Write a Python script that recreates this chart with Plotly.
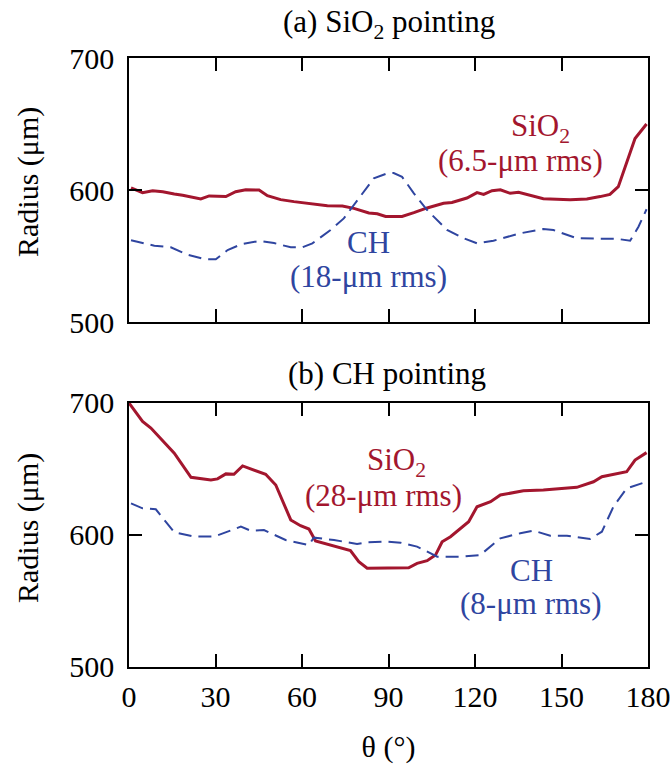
import plotly.graph_objects as go

# ---- data ----
theta_a_sio2 = [0.7, 4.7, 8.2, 11.7, 15.7, 18.6, 24.9, 27.8, 33.6, 37, 40.5, 45.1, 48, 52.6, 57.2, 63, 68.8, 74, 78, 83.2, 86.1, 89,
                94.7, 98.8, 103.4, 109.1, 112, 117.2, 120.7, 123, 125.9, 128.8, 132.2, 135.1, 139.1, 143.7, 153, 158.8, 163.4, 166.8,
                169.7, 172.6, 175.5, 179.5]
r_a_sio2 = [601.7, 598, 599.5, 598.7, 597, 596, 593.2, 595.5, 595, 598.7, 600.2, 600, 595.7, 592.7, 591.2, 589.4, 588.1, 587.9, 586.1,
            582.6, 582, 580, 580, 582.8, 586.4, 589.9, 590.6, 593.9, 598, 596.7, 599.5, 600.2, 597.5, 598.2, 596, 593.4, 592.7, 593.2,
            595, 596.7, 602.5, 621.5, 639, 650]

theta_a_ch = [0.7, 8.8, 14.5, 20.3, 26, 30.1, 34.2, 38.8, 45.1, 50.3, 56.1, 60.1, 63.6, 69.9, 74.5, 80.3, 84.9, 89.5, 91.8, 94.7,
              98.8, 103.4, 110.3, 116.1, 120.7, 126.4, 135.7, 143.7, 147.2, 155.3, 162.2, 169.2, 173.8, 176.7, 179.5]
r_a_ch = [562, 557.8, 556.6, 551, 547.7, 547.5, 554.5, 558.8, 561.4, 559.8, 556.6, 556.6, 559.6, 569.7, 578.5, 595, 608.8, 612.6,
          612.9, 610, 597.5, 584.8, 569.7, 563.4, 559.6, 561.6, 567.2, 570.4, 569.7, 563.4, 563.4, 563, 561.6, 572.2, 585.4]

theta_b_sio2 = [0, 4.7, 7.6, 15.7, 21.5, 28.4, 30.7, 33.6, 36.4, 39.4, 47.4, 50.9, 56.1, 59.5, 62.4, 64.7, 76.8, 79.7, 82.6, 89.5,
                97, 99.9, 103.4, 106.3, 108.6, 111.5, 117.8, 120.7, 125.4, 128.8, 136.8, 143.7, 155.3, 161.1, 164, 172.6, 175.5, 179.5]
r_b_sio2 = [700, 686, 681, 662, 643.7, 641.7, 642.5, 646.3, 646, 652.3, 646, 637.9, 611.4, 607, 604.5, 595.5, 588.2, 579.8, 574.8,
            574.8, 575.2, 578.5, 580.5, 584.8, 594.9, 598.7, 610.1, 621.4, 625.2, 630.3, 633.5, 634, 636.1, 640.3, 644.1, 647.9,
            656.8, 662.4]

theta_b_ch = [0.7, 4.7, 9.3, 11.7, 15.7, 22.6, 29.5, 38.8, 42.2, 46.8, 54.3, 62.4, 64.1, 71.1, 79.1, 82.6, 89.5, 94.2, 99.9, 106.9,
              115, 121.8, 125.3, 128.8, 135.7, 140.3, 146.1, 151.9, 159.9, 164, 168, 172.6, 179.5]
r_b_ch = [624, 620.2, 619.5, 612.7, 602, 598.8, 598.8, 606.3, 603.3, 603.8, 596.2, 592.4, 598, 596.2, 593.2, 594.5, 595, 594.2,
          591.2, 583.6, 583.6, 584.8, 591.2, 597.5, 601.3, 603.3, 599.5, 599.5, 597, 602.5, 621.4, 635.3, 640.3]

x_ticks = [0, 30, 60, 90, 120, 150, 180]
y_ticks = [500, 600, 700]

RED = "#A3162E"
BLUE = "#2F45A0"
FONT = "Liberation Serif, serif"
TS = 30   # tick / axis title size
AS = 31   # annotation size

fig = go.Figure()
fig.add_trace(go.Scatter(x=theta_a_sio2, y=r_a_sio2, mode="lines", line=dict(color=RED, width=3), xaxis="x", yaxis="y"))
fig.add_trace(go.Scatter(x=theta_a_ch, y=r_a_ch, mode="lines", line=dict(color=BLUE, width=2, dash="13px,7px"), xaxis="x", yaxis="y"))
fig.add_trace(go.Scatter(x=theta_b_sio2, y=r_b_sio2, mode="lines", line=dict(color=RED, width=3), xaxis="x2", yaxis="y2"))
fig.add_trace(go.Scatter(x=theta_b_ch, y=r_b_ch, mode="lines", line=dict(color=BLUE, width=2, dash="13px,7px"), xaxis="x2", yaxis="y2"))

common_x = dict(range=[0, 180], tickvals=x_ticks, ticks="inside", ticklen=13, tickwidth=1.5, tickcolor="black",
                showline=True, linecolor="black", linewidth=1.5, mirror="ticks", showgrid=False, zeroline=False,
                automargin=False, ticklabeloverflow="allow")
common_y = dict(range=[500, 700], tickvals=y_ticks, ticks="inside", ticklen=13, tickwidth=1.5, tickcolor="black",
                showline=True, linecolor="black", linewidth=1.5, mirror="ticks", showgrid=False, zeroline=False,
                automargin=False, ticklabeloverflow="allow",
                tickfont=dict(size=TS, family=FONT, color="black"), ticklabelstandoff=7)

fig.update_layout(
    width=670, height=766,
    margin=dict(l=129, r=22, t=58, b=99),
    paper_bgcolor="white", plot_bgcolor="white",
    showlegend=False,
    font=dict(family=FONT, color="black"),
    xaxis=dict(common_x, domain=[0, 1], anchor="y", showticklabels=False),
    yaxis=dict(common_y, domain=[0.5665, 1], anchor="x"),
    xaxis2=dict(common_x, domain=[0, 1], anchor="y2", showticklabels=True,
                tickfont=dict(size=TS, family=FONT, color="black"), ticklabelstandoff=2,
                title=dict(text="θ (°)", font=dict(size=TS, family=FONT, color="black"), standoff=24)),
    yaxis2=dict(common_y, domain=[0, 0.4335], anchor="x2"),
)

ann = []
def txt(text, x, y, color, size=AS, angle=0):
    ann.append(dict(text=text, x=x, y=y, xref="paper", yref="paper", showarrow=False, textangle=angle,
                    font=dict(size=size, family=FONT, color=color), xanchor="center", yanchor="middle"))

W, H, L, T = 519, 609, 129, 58
def px(xp, yp):
    return (xp - L) / W, 1 - (yp - T) / H

txt("Radius (μm)", *px(28, 182), "black", size=TS, angle=-90)
txt("Radius (μm)", *px(28, 528), "black", size=TS, angle=-90)
txt("(a) SiO<sub>2</sub> pointing", *px(389, 24), "black")
txt("(b) CH pointing", *px(387, 373), "black")
txt("SiO<sub>2</sub>", *px(540, 128), RED)
txt("(6.5-μm rms)", *px(520, 160), RED)
txt("CH", *px(368, 243), BLUE)
txt("(18-μm rms)", *px(368, 276), BLUE)
txt("SiO<sub>2</sub>", *px(396, 462), RED)
txt("(28-μm rms)", *px(383, 495), RED)
txt("CH", *px(531, 570), BLUE)
txt("(8-μm rms)", *px(530, 603), BLUE)
fig.update_layout(annotations=ann)

fig.write_html("out.html")
